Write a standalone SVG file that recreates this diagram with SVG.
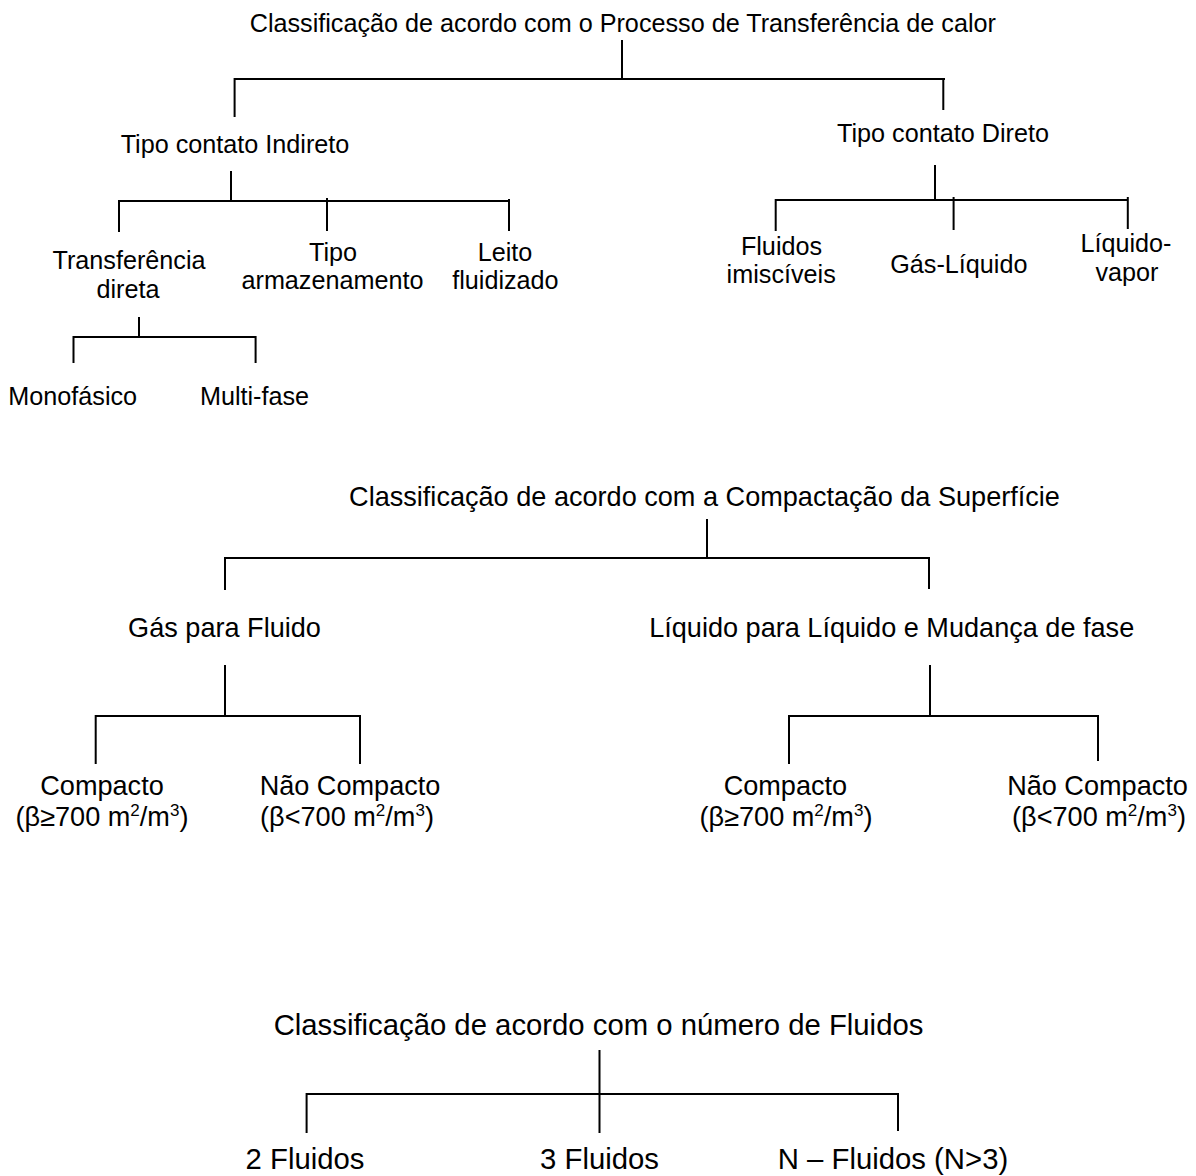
<svg xmlns="http://www.w3.org/2000/svg" width="1196" height="1176" viewBox="0 0 1196 1176">
  <style>
    text { font-family: "Liberation Sans", Arial, sans-serif; fill: #000; text-anchor: middle; }
    .t1 { font-size: 25.2px; }
    .t2 { font-size: 27.1px; }
    .t3 { font-size: 29.3px; }
    .sup { font-size: 17px; }
    .link { fill: none; stroke: #000; stroke-width: 2; stroke-linecap: square; }
  </style>
  <rect width="1196" height="1176" fill="#fff"/>

  <!-- tree connectors -->
  <g id="connectors" class="link">
    <!-- heat-transfer process tree -->
    <path d="M622,41 V79 M234.6,79 H944 M234.6,79 V116 M943.3,79 V109"/>
    <path d="M231,172 V201 M119,201 H509 M119,201 V231 M327,199 V230 M509,200 V230"/>
    <path d="M139,318 V337 M73.5,337 H255.6 M73.5,337 V362 M255.6,337 V362"/>
    <path d="M935,166 V200 M775.7,200 H1127.8 M775.7,200 V230 M953.6,198 V229 M1127.8,198 V228"/>
    <!-- surface compactness tree -->
    <path d="M707,520 V558 M225,558 H929 M225,558 V589 M929,558 V588"/>
    <path d="M225,666 V716 M95.7,716 H360 M95.7,716 V763 M360,716 V763"/>
    <path d="M930,666 V716 M789,716 H1098 M789,716 V763 M1098,716 V760"/>
    <!-- number of fluids tree -->
    <path d="M599.5,1051 V1132 M306.6,1094 H898 M306.6,1094 V1132 M898,1094 V1130"/>
  </g>

  <!-- heat-transfer process classification -->
  <g id="root-processo"><text class="t1" x="622.8" y="32">Classificação de acordo com o Processo de Transferência de calor</text></g>
  <g id="contato-indireto"><text class="t1" x="235" y="153">Tipo contato Indireto</text></g>
  <g id="contato-direto"><text class="t1" x="943" y="142">Tipo contato Direto</text></g>
  <g id="transferencia-direta"><text class="t1" x="129" y="269">Transferência</text><text class="t1" x="128" y="298">direta</text></g>
  <g id="armazenamento"><text class="t1" x="333" y="261">Tipo</text><text class="t1" x="332.5" y="289">armazenamento</text></g>
  <g id="leito-fluidizado"><text class="t1" x="505" y="261">Leito</text><text class="t1" x="505.4" y="289">fluidizado</text></g>
  <g id="monofasico"><text class="t1" x="72.7" y="405">Monofásico</text></g>
  <g id="multi-fase"><text class="t1" x="254.5" y="405">Multi-fase</text></g>
  <g id="fluidos-imisciveis"><text class="t1" x="781.5" y="255">Fluidos</text><text class="t1" x="781.2" y="283">imiscíveis</text></g>
  <g id="gas-liquido"><text class="t1" x="958.8" y="273">Gás-Líquido</text></g>
  <g id="liquido-vapor"><text class="t1" x="1126" y="252">Líquido-</text><text class="t1" x="1127" y="281">vapor</text></g>

  <!-- surface compactness classification -->
  <g id="root-compactacao"><text class="t2" x="704.5" y="506">Classificação de acordo com a Compactação da Superfície</text></g>
  <g id="gas-fluido"><text class="t2" x="224.5" y="637">Gás para Fluido</text></g>
  <g id="liquido-liquido"><text class="t2" x="891.7" y="637">Líquido para Líquido e Mudança de fase</text></g>
  <g id="gas-compacto">
    <text class="t2" x="102" y="795">Compacto</text>
    <text class="t2" x="102" y="826">(β≥700 m<tspan class="sup" dy="-10">2</tspan><tspan dy="10">/m</tspan><tspan class="sup" dy="-10">3</tspan><tspan dy="10">)</tspan></text>
  </g>
  <g id="gas-nao-compacto">
    <text class="t2" x="350" y="795">Não Compacto</text>
    <text class="t2" x="347" y="826">(β&lt;700 m<tspan class="sup" dy="-10">2</tspan><tspan dy="10">/m</tspan><tspan class="sup" dy="-10">3</tspan><tspan dy="10">)</tspan></text>
  </g>
  <g id="liquido-compacto">
    <text class="t2" x="785.4" y="795">Compacto</text>
    <text class="t2" x="786" y="826">(β≥700 m<tspan class="sup" dy="-10">2</tspan><tspan dy="10">/m</tspan><tspan class="sup" dy="-10">3</tspan><tspan dy="10">)</tspan></text>
  </g>
  <g id="liquido-nao-compacto">
    <text class="t2" x="1097.5" y="795">Não Compacto</text>
    <text class="t2" x="1099" y="826">(β&lt;700 m<tspan class="sup" dy="-10">2</tspan><tspan dy="10">/m</tspan><tspan class="sup" dy="-10">3</tspan><tspan dy="10">)</tspan></text>
  </g>

  <!-- number of fluids classification -->
  <g id="root-fluidos"><text class="t3" x="598.5" y="1035">Classificação de acordo com o número de Fluidos</text></g>
  <g id="dois-fluidos"><text class="t3" x="305" y="1169">2 Fluidos</text></g>
  <g id="tres-fluidos"><text class="t3" x="599.5" y="1169">3 Fluidos</text></g>
  <g id="n-fluidos"><text class="t3" x="893" y="1169">N – Fluidos (N&gt;3)</text></g>
</svg>
